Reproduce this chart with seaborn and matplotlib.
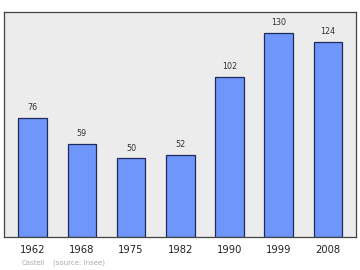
import matplotlib
matplotlib.use("Agg")
import matplotlib.pyplot as plt
import seaborn as sns
import pandas as pd

years = ["1962", "1968", "1975", "1982", "1990", "1999", "2008"]
population = [76, 59, 50, 52, 102, 130, 124]

df = pd.DataFrame({"year": years, "pop": population})

sns.set_style("white")
plt.rcParams['font.family'] = ['DejaVu Sans']

fig = plt.figure(figsize=(3.6, 2.7), dpi=100)
ax = fig.add_axes([4/360, 33/270, 352/360, 225/270])
ax.set_facecolor("#ececec")
sns.barplot(data=df, x="year", y="pop", ax=ax, color="#6f96fb", saturation=1,
            width=0.58, edgecolor="#1f2a5a", linewidth=0.9)
ax.set_xlim(-0.58, 6.57)
ax.set_ylim(0, 143.3)
for i, v in enumerate(population):
    ax.text(i, v + 3.8, str(v), ha="center", va="bottom", fontsize=5.8, color="#333333")
ax.set_xlabel("")
ax.set_ylabel("")
ax.set_yticks([])
ax.tick_params(axis="x", length=0, pad=6, labelsize=7.2, labelcolor="#222222")
for s in ax.spines.values():
    s.set_color("#444444")
    s.set_linewidth(0.9)
fig.text(22/360, 1 - 263/270, "Casteil", fontsize=5.0, color="#aaaaaa", va="center")
fig.text(53/360, 1 - 263/270, "(source: Insee)", fontsize=5.0, color="#aaaaaa", va="center")
fig.savefig("out.png", dpi=100)
